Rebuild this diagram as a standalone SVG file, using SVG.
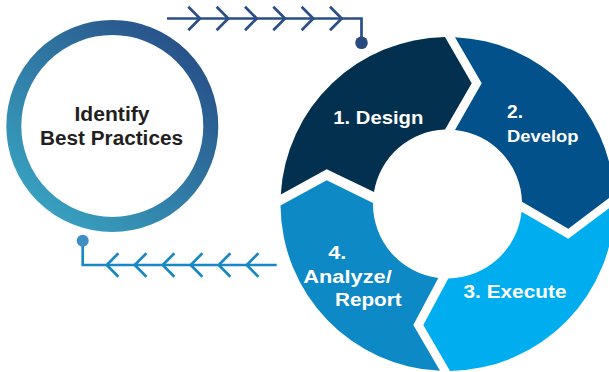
<svg xmlns="http://www.w3.org/2000/svg" width="609" height="372" viewBox="0 0 609 372">
  <defs>
    <linearGradient id="ringGrad" x1="0.85" y1="0.1" x2="0.15" y2="0.9">
      <stop offset="0" stop-color="#28538a"/>
      <stop offset="1" stop-color="#389fbe"/>
    </linearGradient>
    <style>
      .lbl { font-family: "Liberation Sans", Arial, sans-serif; font-weight: bold; fill: #ffffff; }
      .hub { font-family: "Liberation Sans", Arial, sans-serif; font-weight: bold; fill: #231f20; font-size: 19.5px; }
      .conn-top { fill: none; stroke: #2a4f86; stroke-width: 2.7; }
      .conn-bot { fill: none; stroke: #1a87c7; stroke-width: 2.7; }
    </style>
  </defs>
  <rect width="609" height="372" fill="#ffffff"/>

  <g id="connectors">
    <g id="conn-top">
      <path class="conn-top" d="M167 18.5 H361.5 V38"/>
      <path class="conn-top" d="M188.3 6.7 L200 18.5 L188.3 30.3 M216.6 6.7 L228.3 18.5 L216.6 30.3 M245 6.7 L256.7 18.5 L245 30.3 M273.3 6.7 L285 18.5 L273.3 30.3 M301.6 6.7 L313.3 18.5 L301.6 30.3 M330 6.7 L341.7 18.5 L330 30.3"/>
      <circle cx="361.5" cy="42.7" r="6.3" fill="#284a7e"/>
    </g>
    <g id="conn-bottom">
      <path class="conn-bot" d="M82.7 245 V265 H276.7"/>
      <path class="conn-bot" d="M118.4 253.3 L106.7 265 L118.4 276.7 M146.4 253.3 L134.7 265 L146.4 276.7 M174.4 253.3 L162.7 265 L174.4 276.7 M202.4 253.3 L190.7 265 L202.4 276.7 M230.4 253.3 L218.7 265 L230.4 276.7 M258.4 253.3 L246.7 265 L258.4 276.7"/>
      <circle cx="82.7" cy="240.7" r="6" fill="#3d8fc3"/>
    </g>
  </g>

  <g id="node-identify">
    <circle cx="112.3" cy="126" r="98.5" fill="#ffffff" stroke="url(#ringGrad)" stroke-width="15"/>
    <text class="hub" x="112" y="121" text-anchor="middle" textLength="75" lengthAdjust="spacingAndGlyphs">Identify</text>
    <text class="hub" x="111.5" y="145" text-anchor="middle" textLength="143" lengthAdjust="spacingAndGlyphs">Best Practices</text>
  </g>

  <g id="node-design">
    <path fill="#04304f" d="M280.8 194.5 A167 167 0 0 1 445 37 L471.7 83.3 L445 129.5 A74.5 74.5 0 0 0 374 192 L326.7 169.2 Z"/>
    <text class="lbl" x="378.3" y="124" font-size="18.5" text-anchor="middle" textLength="90" lengthAdjust="spacingAndGlyphs">1. Design</text>
  </g>

  <g id="node-develop">
    <path fill="#02518a" d="M455 37.2 A167 167 0 0 1 614.2 194 L568.3 228.8 L522 201.7 A74.5 74.5 0 0 0 455 129.9 L481.7 83.3 Z"/>
    <text class="lbl" x="507" y="118" font-size="17.5" textLength="16" lengthAdjust="spacingAndGlyphs">2.</text>
    <text class="lbl" x="507" y="141.5" font-size="17" textLength="71.5" lengthAdjust="spacingAndGlyphs">Develop</text>
  </g>

  <g id="node-execute">
    <path fill="#00aeef" d="M614.5 204 A167 167 0 0 1 450 371 L423.3 325 L448.3 278.5 A74.5 74.5 0 0 0 521.6 211.7 L568.3 238.8 Z"/>
    <text class="lbl" x="515" y="298.3" font-size="18.5" text-anchor="middle" textLength="103" lengthAdjust="spacingAndGlyphs">3. Execute</text>
  </g>

  <g id="node-analyze">
    <path fill="#0d89c6" d="M440 370.8 A167 167 0 0 1 280.5 205.5 L326.7 180.2 L373 203 A74.5 74.5 0 0 0 438.3 277.9 L413.3 325 Z"/>
    <text class="lbl" x="328.3" y="259.3" font-size="18" textLength="18" lengthAdjust="spacingAndGlyphs">4.</text>
    <text class="lbl" x="303.3" y="282.5" font-size="18" textLength="88.4" lengthAdjust="spacingAndGlyphs">Analyze/</text>
    <text class="lbl" x="335" y="305.5" font-size="18" textLength="66.7" lengthAdjust="spacingAndGlyphs">Report</text>
  </g>
</svg>
